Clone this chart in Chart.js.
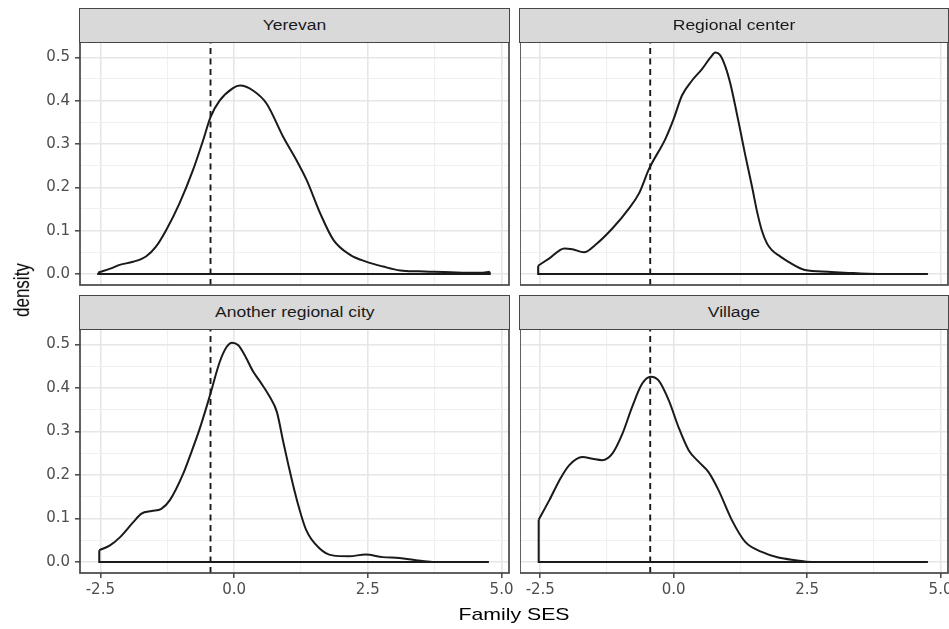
<!DOCTYPE html>
<html>
<head>
<meta charset="utf-8">
<title>Family SES density by settlement type</title>
<script src="https://cdn.jsdelivr.net/npm/chart.js@4.4.1/dist/chart.umd.min.js"></script>
<style>
  html, body { margin: 0; padding: 0; background: #fff; }
  #page { position: relative; width: 949px; height: 629px; overflow: hidden; background: #fff; }
  #page canvas { position: absolute; }
  .strip { position: absolute; box-sizing: border-box; background: #d9d9d9; border: 1.6px solid #464646;
           display: flex; align-items: center; justify-content: center; }
  .strip span, .axis-title { font-family: "Liberation Sans", Arial, sans-serif; display: inline-block; line-height: 1; white-space: nowrap; }
  .strip span { font-size: 14px; color: #1a1a1a; transform: scaleX(1.25); }
  .axis-title { position: absolute; font-size: 17px; color: #000; }
  #xTitle { left: 514px; top: 614px; transform: translate(-50%, -50%) scaleX(1.25); }
  #yTitle { left: 22px; top: 290px; transform: translate(-50%, -50%) rotate(-90deg) scaleY(1.25); }
</style>
</head>
<body>
<div id="page">
  <div id="xTitle" class="axis-title">Family SES</div>
  <div id="yTitle" class="axis-title">density</div>
</div>
<script>
// ---- density estimates, one pair of arrays per settlement type ----
const yerevanX = [-2.54, -2.3, -2.14, -1.89, -1.64, -1.46, -1.27, -1.02, -0.77, -0.58, -0.44, -0.27, -0.02, 0.11,
  0.36, 0.61, 0.92, 1.17, 1.36, 1.61, 1.86, 2.17, 2.48, 2.79, 3.11, 3.45, 3.73, 4.05, 4.36, 4.6, 4.78];
const yerevanY = [0.003, 0.013, 0.021, 0.028, 0.041, 0.063, 0.101, 0.163, 0.239, 0.308, 0.362, 0.400, 0.429, 0.435,
  0.423, 0.393, 0.316, 0.262, 0.216, 0.140, 0.078, 0.044, 0.028, 0.017, 0.008, 0.006, 0.005, 0.004, 0.003, 0.003, 0.005];

const regionalX = [-2.54, -2.33, -2.05, -1.9, -1.68, -1.47, -1.15, -0.84, -0.65, -0.46, -0.155, 0.0, 0.155, 0.34,
  0.53, 0.69, 0.78, 0.87, 0.97, 1.06, 1.15, 1.25, 1.34, 1.47, 1.56, 1.65, 1.75, 1.84, 2.0, 2.15, 2.46, 2.89, 3.2,
  3.83, 4.76];
const regionalY = [0.019, 0.036, 0.059, 0.057, 0.050, 0.067, 0.105, 0.151, 0.186, 0.243, 0.312, 0.358, 0.412, 0.446,
  0.473, 0.500, 0.511, 0.505, 0.478, 0.440, 0.390, 0.330, 0.275, 0.200, 0.145, 0.101, 0.070, 0.055, 0.040, 0.028,
  0.009, 0.005, 0.003, 0.0, 0.0];

const cityX = [-2.52, -2.32, -2.13, -1.88, -1.73, -1.54, -1.36, -1.2, -0.95, -0.82, -0.64, -0.45, -0.27, -0.14,
  -0.04, 0.08, 0.2, 0.36, 0.49, 0.67, 0.8, 0.92, 1.01, 1.16, 1.35, 1.6, 1.84, 2.15, 2.46, 2.78, 3.09, 3.4, 3.71, 4.76];
const cityY = [0.027, 0.038, 0.057, 0.092, 0.111, 0.117, 0.122, 0.142, 0.203, 0.245, 0.307, 0.383, 0.459, 0.494,
  0.504, 0.498, 0.475, 0.437, 0.414, 0.379, 0.345, 0.276, 0.226, 0.149, 0.073, 0.031, 0.015, 0.013, 0.017, 0.011,
  0.009, 0.004, 0.0, 0.0];

const villageX = [-2.53, -2.33, -2.14, -1.96, -1.71, -1.52, -1.34, -1.15, -0.96, -0.78, -0.59, -0.43, -0.28, -0.09,
  0.09, 0.28, 0.47, 0.65, 0.84, 1.09, 1.34, 1.65, 1.96, 2.28, 2.59, 4.76];
const villageY = [0.097, 0.142, 0.188, 0.222, 0.241, 0.237, 0.234, 0.249, 0.295, 0.356, 0.410, 0.426, 0.417, 0.371,
  0.310, 0.257, 0.230, 0.207, 0.165, 0.096, 0.046, 0.023, 0.010, 0.004, 0.0, 0.0];

// shared reference line (sample mean of Family SES)
const cutoff = -0.44;

// ---- axes ----
const xRange = [-2.88, 5.14];
const yRange = [-0.0255, 0.5355];
const xTicks = [-2.5, -1.25, 0, 1.25, 2.5, 3.75, 5];
const xLabels = [-2.5, 0, 2.5, 5];
const yTicks = [0, 0.05, 0.1, 0.15, 0.2, 0.25, 0.3, 0.35, 0.4, 0.45, 0.5];
const yLabels = [0, 0.1, 0.2, 0.3, 0.4, 0.5];

// facet grid layout (page pixels)
const cols = [{ left: 80, right: 509 }, { left: 520, right: 948 }];
const rows = [{ strip: 8, top: 42, bottom: 285 }, { strip: 295, top: 329, bottom: 573 }];

const panels = [
  { name: 'Yerevan', xs: yerevanX, ys: yerevanY, col: 0, row: 0 },
  { name: 'Regional center', xs: regionalX, ys: regionalY, col: 1, row: 0 },
  { name: 'Another regional city', xs: cityX, ys: cityY, col: 0, row: 1 },
  { name: 'Village', xs: villageX, ys: villageY, col: 1, row: 1 },
];

Chart.defaults.font.family = '"DejaVu Sans", sans-serif';
Chart.defaults.font.size = 15;
Chart.defaults.color = '#4d4d4d';

const near = (a, b) => Math.abs(a - b) < 1e-6;
const isLabelled = (list, v) => list.some(t => near(t, v));

// box around each plot area, drawn on top like ggplot's panel.border
const panelBorder = {
  id: 'panelBorder',
  afterDraw(chart) {
    const { ctx, chartArea: a } = chart;
    ctx.save();
    ctx.strokeStyle = '#464646';
    ctx.lineWidth = 1.7;
    ctx.strokeRect(a.left, a.top, a.right - a.left, a.bottom - a.top);
    ctx.restore();
  }
};

function gridStyle(labels) {
  return {
    color: c => (c.tick && isLabelled(labels, c.tick.value)) ? '#e6e6e6' : '#f0f0f0',
    lineWidth: c => (c.tick && isLabelled(labels, c.tick.value)) ? 1.6 : 1.1,
    tickColor: c => (c.tick && isLabelled(labels, c.tick.value)) ? '#464646' : 'rgba(0,0,0,0)',
    tickWidth: 1.5,
    tickLength: 5,
  };
}

function densityDatasets(xs, ys) {
  const last = xs.length - 1;
  const curve = xs.map((x, i) => ({ x, y: ys[i] }));
  // closing edges of the density polygon
  const base = [{ x: xs[0], y: ys[0] }, { x: xs[0], y: 0 }, { x: xs[last], y: 0 }, { x: xs[last], y: ys[last] }];
  const cut = [{ x: cutoff, y: yRange[0] }, { x: cutoff, y: yRange[1] }];
  const line = { borderColor: '#1a1a1a', borderWidth: 2, pointRadius: 0, fill: false };
  return [
    { ...line, data: cut, borderDash: [6, 4.5], borderWidth: 1.9, tension: 0 },
    { ...line, data: base, tension: 0 },
    { ...line, data: curve, cubicInterpolationMode: 'monotone' },
  ];
}

const page = document.getElementById('page');

panels.forEach(p => {
  const c = cols[p.col], r = rows[p.row];
  const showY = p.col === 0, showX = p.row === 1;
  const yAxisW = showY ? 60 : 0;
  const xAxisH = showX ? 30 : 0;
  const pad = { left: 0, top: 2, right: 12, bottom: 2 };

  // strip label
  const strip = document.createElement('div');
  strip.className = 'strip';
  strip.style.left = (c.left - 0.8) + 'px';
  strip.style.width = (c.right - c.left + 1.6) + 'px';
  strip.style.top = r.strip + 'px';
  strip.style.height = (r.top - r.strip + 0.8) + 'px';
  const label = document.createElement('span');
  label.textContent = p.name;
  strip.appendChild(label);
  page.appendChild(strip);

  // plot canvas, sized so the chart area lands on the panel rectangle
  const canvas = document.createElement('canvas');
  const w = (c.right - c.left) + yAxisW + pad.left + pad.right;
  const h = (r.bottom - r.top) + pad.top + xAxisH + pad.bottom;
  canvas.width = w;
  canvas.height = h;
  canvas.style.left = (c.left - yAxisW - pad.left) + 'px';
  canvas.style.top = (r.top - pad.top) + 'px';
  canvas.style.width = w + 'px';
  canvas.style.height = h + 'px';
  page.insertBefore(canvas, page.firstChild);

  new Chart(canvas, {
    type: 'line',
    data: { datasets: densityDatasets(p.xs, p.ys) },
    plugins: [panelBorder],
    options: {
      responsive: false,
      animation: false,
      devicePixelRatio: 1,
      layout: { padding: pad },
      plugins: { legend: { display: false }, tooltip: { enabled: false } },
      scales: {
        x: {
          type: 'linear',
          min: xRange[0],
          max: xRange[1],
          border: { display: false },
          grid: { ...gridStyle(xLabels), drawTicks: showX },
          afterBuildTicks: s => { s.ticks = xTicks.map(v => ({ value: v })); },
          afterFit: s => { s.height = xAxisH; s.paddingLeft = 0; s.paddingRight = 0; },
          ticks: {
            display: showX,
            autoSkip: false,
            maxRotation: 0,
            padding: 3,
            callback: v => isLabelled(xLabels, v) ? v.toFixed(1) : '',
          },
        },
        y: {
          type: 'linear',
          min: yRange[0],
          max: yRange[1],
          border: { display: false },
          grid: { ...gridStyle(yLabels), drawTicks: showY },
          afterBuildTicks: s => { s.ticks = yTicks.map(v => ({ value: v })); },
          afterFit: s => { s.width = yAxisW; s.paddingTop = 0; s.paddingBottom = 0; },
          ticks: {
            display: showY,
            autoSkip: false,
            padding: 5,
            callback: v => isLabelled(yLabels, v) ? v.toFixed(1) : '',
          },
        },
      },
    },
  });
});
</script>
</body>
</html>
